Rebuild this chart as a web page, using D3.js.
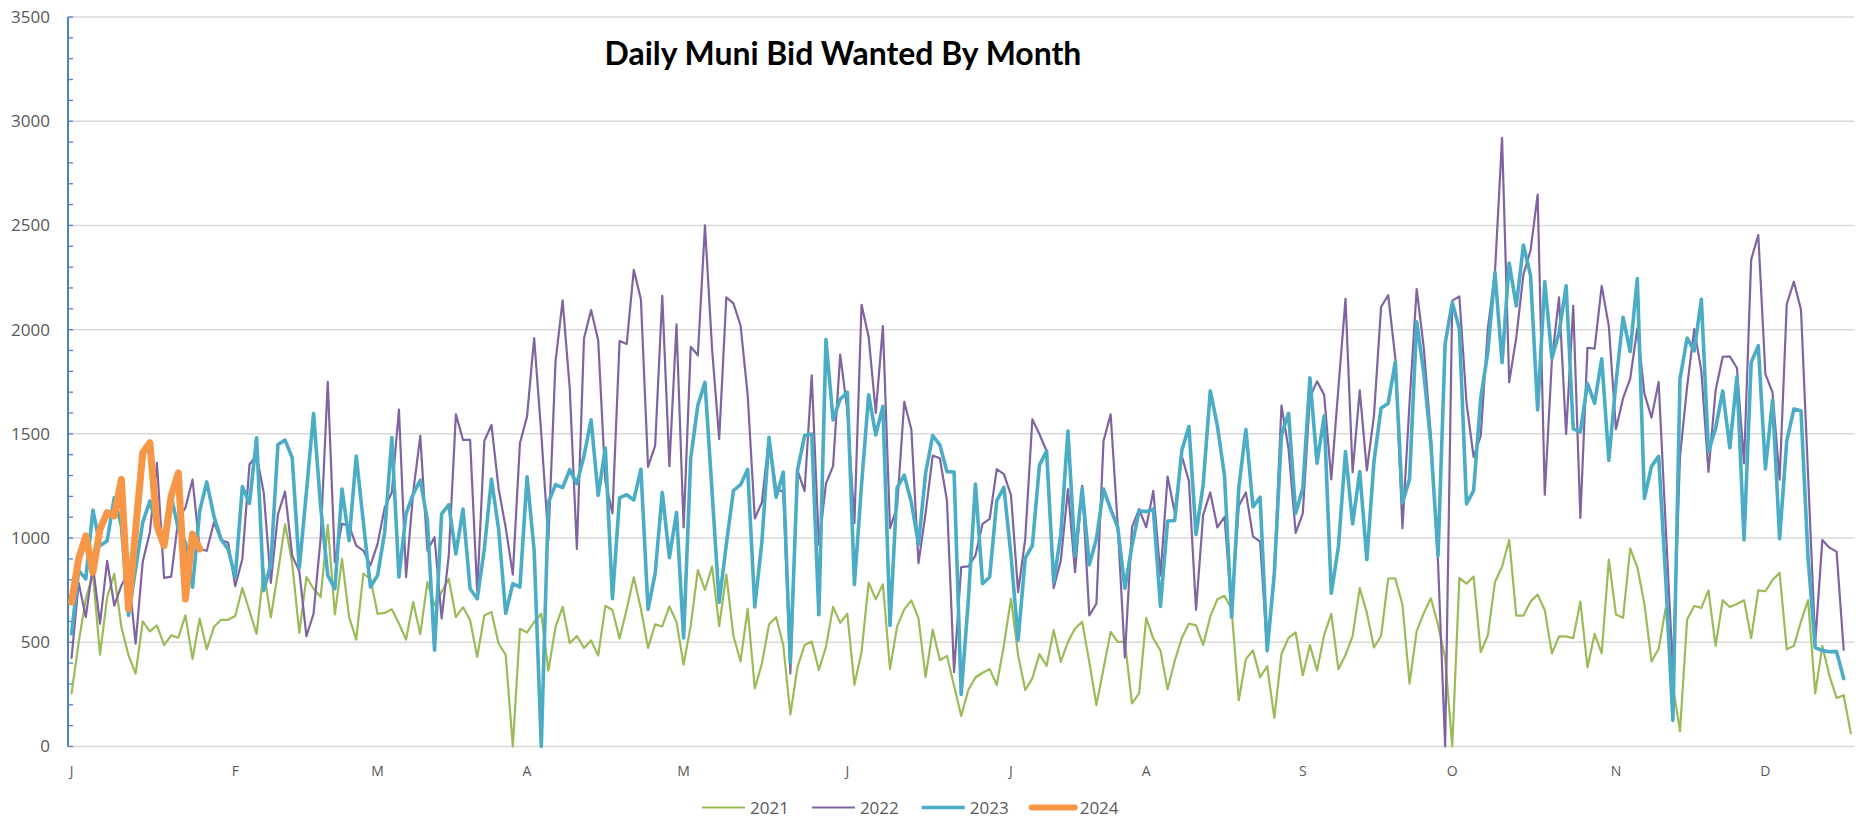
<!DOCTYPE html>
<html><head><meta charset="utf-8">
<script src="https://cdnjs.cloudflare.com/ajax/libs/d3/7.8.5/d3.min.js"></script>
<style>body{margin:0;background:#fff;} svg{display:block;}</style>
</head><body><svg id="chart" width="1866" height="819"></svg>
<script>
const seriesNames = ["2021", "2022", "2023", "2024"];
const seriesColors = ["#9BBB59", "#8064A2", "#4BACC6", "#F79646"];
const monthLabels = ["J","F","M","A","M","J","J","A","S","O","N","D"];
const monthStarts = [0,23,43,64,86,109,132,151,173,194,217,238];
const yTickValues = [0,500,1000,1500,2000,2500,3000,3500];

const v2021 = [255,500,708,828,441,716,828,573,438,350,600,552,581,486,533,522,629,419,613,466,
573,608,608,626,760,650,540,849,619,836,1067,880,545,813,757,717,1063,634,900,621,
513,829,805,637,641,658,590,513,693,539,789,677,741,805,621,669,606,430,629,645,
494,440,0,565,547,598,637,364,573,670,496,530,473,509,436,675,655,518,658,812,
661,473,586,576,672,598,393,581,846,752,863,578,825,530,408,661,279,398,586,620,
487,154,381,487,504,367,478,670,593,637,296,453,786,706,778,371,576,658,701,615,
333,561,414,435,292,147,271,331,354,371,295,486,709,438,271,327,443,387,558,406,
502,566,598,406,199,374,550,502,502,207,255,617,518,460,275,410,521,590,581,487,
624,706,723,658,222,419,461,333,385,137,444,521,547,342,487,364,535,637,371,439,
530,760,641,475,530,806,806,680,302,554,640,711,584,423,0,809,781,815,453,534,
789,862,991,628,628,695,729,654,447,528,528,520,695,379,540,447,897,633,618,950,
861,684,408,469,665,292,73,609,674,665,749,483,702,669,684,702,520,749,745,799,
833,466,483,600,702,255,483,339,233,246,63];

const v2022 = [425,785,621,869,590,891,676,772,836,493,887,1027,1361,809,815,1091,1146,1281,947,939,
1075,990,979,769,900,1353,1396,1218,785,1114,1223,916,840,529,637,1000,1750,884,1068,1060,
964,940,869,972,1147,1219,1617,813,1219,1490,940,1004,614,916,1594,1471,1471,741,1466,1543,
1238,1050,825,1455,1584,1960,1500,991,1846,2140,1718,948,1957,2094,1948,1273,1119,1945,1931,2287,
2145,1342,1444,2162,1345,2025,1051,1918,1877,2500,1906,1475,2155,2126,2020,1687,1094,1171,1482,1236,
1222,350,1325,1225,1781,969,1261,1345,1880,1615,1072,2119,1965,1601,2017,1048,1150,1654,1521,880,
1119,1396,1383,1180,357,861,864,916,1068,1092,1331,1307,1206,741,996,1570,1498,1418,760,892,
1235,837,1251,629,685,1466,1594,1060,427,1052,1139,1052,1227,820,1295,1125,1393,1273,655,1111,
1219,1051,1102,658,1154,1219,1008,983,456,846,1636,1427,1025,1119,1675,1752,1687,1282,1718,2148,
1316,1709,1325,1589,2110,2165,1863,1047,1651,2195,1913,1490,886,0,2139,2159,1651,1389,1490,2004,
2275,2920,1748,1963,2265,2380,2648,1208,1853,2155,1500,2114,1097,1913,1909,2210,2017,1522,1671,1764,
2006,1693,1578,1749,1050,367,1392,1727,2003,1801,1317,1708,1870,1872,1816,1358,2336,2454,1787,1699,
1280,2122,2230,2096,1300,497,991,954,935,464];

const v2023 = [541,844,804,1134,963,987,1194,1059,629,852,1075,1178,1059,995,1202,1043,979,764,1130,1269,
1106,995,947,812,1247,1167,1481,748,876,1449,1470,1386,856,1220,1597,1150,821,757,1235,988,
1394,1076,765,821,1028,1482,813,1116,1211,1278,1084,462,1116,1160,924,1139,757,709,948,1283,
1044,639,781,765,1294,940,0,1171,1256,1242,1328,1261,1393,1567,1205,1432,709,1193,1208,1183,
1330,658,829,1219,906,1123,521,1384,1637,1747,1220,692,970,1228,1256,1330,670,983,1483,1196,
1316,402,1325,1492,1499,632,1952,1567,1666,1700,778,1256,1687,1495,1632,581,1242,1302,1171,969,
1311,1492,1447,1319,1317,250,700,1259,781,813,1179,1243,916,510,904,964,1350,1418,789,1020,
1514,916,1238,872,996,1235,1139,1052,760,964,1131,1127,1139,672,1082,1084,1420,1535,1017,1256,
1706,1538,1299,620,1239,1521,1150,1196,461,829,1495,1598,1119,1239,1769,1359,1586,735,957,1415,
1068,1319,897,1367,1624,1646,1846,1168,1283,2038,1792,1450,916,1933,2130,2004,1164,1228,1671,1893,
2275,1842,2320,2114,2406,2259,1615,2231,1863,1983,2211,1524,1510,1742,1647,1860,1373,1745,2059,1895,
2245,1190,1345,1392,800,125,1764,1960,1898,2146,1414,1526,1705,1433,1774,991,1842,1923,1332,1662,
997,1466,1619,1611,900,475,460,455,455,326];

const v2024 = [693,900,1011,836,1043,1122,1106,1281,661,1040,1409,1457,1059,963,1202,1313,708,1019,947];

const seriesValues = [v2021, v2022, v2023, v2024];
const seriesWidths = [2.2, 2.2, 3.6, 7];

const svg = d3.select("#chart");
const nCat = 251;
const plotLeft = 68, plotRight = 68 + nCat * 7.117;
const x = d3.scaleLinear().domain([-0.5, nCat - 0.5]).range([plotLeft, plotRight]);
const y = d3.scaleLinear().domain([0, 3500]).range([746.5, 17]);

// gridlines
svg.append("g").selectAll("line").data(yTickValues).join("line")
  .attr("x1", plotLeft).attr("x2", plotRight)
  .attr("y1", d => y(d)).attr("y2", d => y(d))
  .attr("stroke", "#d9d9d9").attr("stroke-width", 1.5);

// y axis
const yAxis = d3.axisLeft(y).tickValues(yTickValues).tickSize(0).tickPadding(18).tickFormat(d3.format("d"));
const ya = svg.append("g").attr("transform", `translate(${plotLeft},0)`).call(yAxis);
ya.select(".domain").remove();
ya.selectAll("text").attr("font-family", "'Open Sans', sans-serif").attr("font-size", 17).attr("fill", "#595959");

// minor ticks (inside)
svg.append("g").selectAll("line").data(d3.range(0, 3501, 100)).join("line")
  .attr("x1", plotLeft).attr("x2", plotLeft + 5)
  .attr("y1", d => y(d)).attr("y2", d => y(d))
  .attr("stroke", "#4F81BD").attr("stroke-width", 1.3);
svg.append("line").attr("x1", plotLeft).attr("x2", plotLeft).attr("y1", y(3500)).attr("y2", y(0))
  .attr("stroke", "#4F81BD").attr("stroke-width", 2);

// x month labels
svg.append("g").selectAll("text").data(monthStarts).join("text")
  .attr("x", d => x(d)).attr("y", 776)
  .attr("text-anchor", "middle")
  .attr("font-family", "'Open Sans', sans-serif").attr("font-size", 14).attr("fill", "#595959")
  .text((d, i) => monthLabels[i]);

// lines
const line = d3.line().x((d, i) => x(i)).y(d => y(d));
svg.append("g").selectAll("path").data(seriesValues).join("path")
  .attr("d", d => line(d))
  .attr("fill", "none")
  .attr("stroke", (d, i) => seriesColors[i])
  .attr("stroke-width", (d, i) => seriesWidths[i])
  .attr("stroke-linejoin", "round").attr("stroke-linecap", "round");

// title
const title = svg.append("text").attr("x", 843).attr("y", 65).attr("text-anchor", "middle")
  .attr("font-family", "Lato, sans-serif").attr("font-weight", 700).attr("font-size", 30)
  .attr("fill", "#000").text("Daily Muni Bid Wanted By Month");
const tl = title.node().getComputedTextLength();
title.attr("font-size", 30 * 477 / tl);

// legend
const lg = svg.append("g");
let cx = 702;
seriesNames.forEach((name, i) => {
  lg.append("line").attr("x1", cx).attr("x2", cx + 43).attr("y1", 807.5).attr("y2", 807.5)
    .attr("stroke", seriesColors[i]).attr("stroke-width", i === 3 ? 6 : (i === 2 ? 3.5 : 2.2))
    .attr("stroke-linecap", i === 3 ? "round" : "butt");
  const t = lg.append("text").attr("x", cx + 48).attr("y", 813.5)
    .attr("font-family", "'Open Sans', sans-serif").attr("font-size", 17).attr("fill", "#595959").text(name);
  cx += 48 + t.node().getComputedTextLength() + 23;
});
</script></body></html>
